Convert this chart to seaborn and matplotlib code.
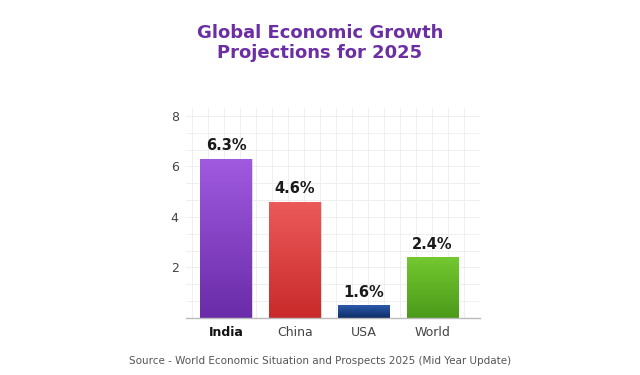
import numpy as np
import pandas as pd
import matplotlib.pyplot as plt
import seaborn as sns
from matplotlib.colors import LinearSegmentedColormap

# Chart data (bar heights as drawn, labels as printed)
regions = ['India', 'China', 'USA', 'World']
bar_heights = [6.3, 4.6, 0.5, 2.4]
value_labels = ['6.3%', '4.6%', '1.6%', '2.4%']
y_ticks = [2, 4, 6, 8]

top_colors = ['#a05ae0', '#ec5a5a', '#2a5bab', '#74c830']
bottom_colors = ['#6a2ca8', '#c92a2a', '#0f2d66', '#4b9a1a']

df = pd.DataFrame({'Region': regions, 'Growth': bar_heights})

sns.set_style("white")
plt.rcParams['font.family'] = ['DejaVu Sans']

fig = plt.figure(figsize=(6.4, 3.75), dpi=100)
ax = fig.add_axes([0.29, 0.152, 0.46, 0.559])

bar_plot = sns.barplot(data=df, x='Region', y='Growth', hue='Region',
                       palette=top_colors, width=0.75, legend=False, ax=ax)

# Gradient fill for each bar
for patch, c_top, c_bot in zip(bar_plot.patches, top_colors, bottom_colors):
    x0, y0 = patch.get_x(), patch.get_y()
    w, h = patch.get_width(), patch.get_height()
    cmap = LinearSegmentedColormap.from_list('g', [c_bot, c_top])
    grad = np.linspace(0, 1, 100).reshape(-1, 1)
    im = ax.imshow(grad, extent=[x0, x0 + w, y0, y0 + h], origin='lower',
                   aspect='auto', cmap=cmap, zorder=2)
    im.set_clip_path(patch)
    patch.set_edgecolor('#dddddd')
    patch.set_linewidth(0.6)

ax.set_xlim(-0.59, 3.63)
ax.set_ylim(0, 8.3)

# Value labels
for i, (v, lab) in enumerate(zip(bar_heights, value_labels)):
    ax.text(i, v + 0.22, lab, ha='center', va='bottom', fontsize=10.5,
            fontweight='bold', color='#1a1a1a', zorder=3)

# Faint grid
ax.set_yticks(y_ticks)
ax.set_yticks(np.arange(0, 8.4, 0.667), minor=True)
ax.set_xticks(np.arange(-0.5, 3.7, 0.233), minor=True)
ax.grid(which='minor', color='#ececec', linewidth=0.6, zorder=0)
ax.set_axisbelow(True)

ax.tick_params(axis='y', length=0, labelsize=9, labelcolor='#444444', pad=5)
ax.tick_params(axis='x', length=0, labelsize=9, labelcolor='#444444', pad=6)
ax.tick_params(which='minor', length=0)
for lbl in ax.get_xticklabels():
    if lbl.get_text() == 'India':
        lbl.set_fontweight('bold')
        lbl.set_color('#111111')

sns.despine(ax=ax, left=True)
ax.spines['bottom'].set_color('#bbbbbb')
ax.spines['bottom'].set_linewidth(1)
ax.set_xlabel('')
ax.set_ylabel('')

fig.text(0.5, 1 - 38 / 375, 'Global Economic Growth', ha='center', va='baseline',
         fontsize=13, fontweight='bold', color='#6b2fa3')
fig.text(0.5, 1 - 58 / 375, 'Projections for 2025', ha='center', va='baseline',
         fontsize=13, fontweight='bold', color='#6b2fa3')
fig.text(0.5, 0.037, 'Source - World Economic Situation and Prospects 2025 (Mid Year Update)',
         ha='center', va='center', fontsize=7.5, color='#555555')

plt.savefig('out.png', dpi=100)
plt.close()
